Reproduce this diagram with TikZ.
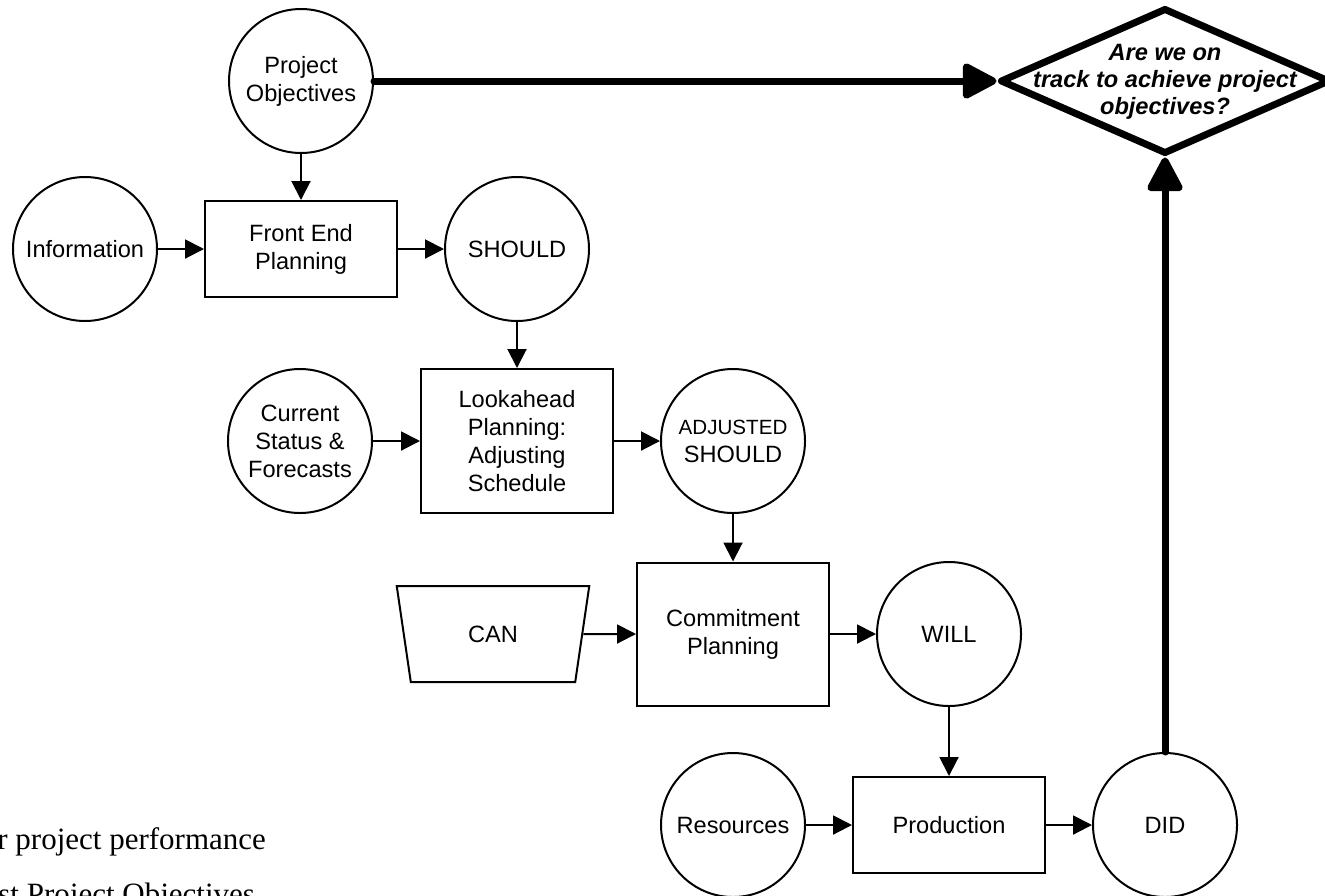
\documentclass[tikz,border=0pt]{standalone}
\usepackage{fontspec}
\setmainfont{Liberation Serif}
\setsansfont{Liberation Sans}
\usetikzlibrary{arrows.meta,shapes.geometric}

\begin{document}
\begin{tikzpicture}[x=0.5pt,y=-0.5pt,
  lbl/.style={font=\sffamily\fontsize{11.8}{14}\selectfont, align=center, inner sep=0pt},
  circ/.style={lbl, draw, circle, line width=1pt, minimum size=72pt},
  proc/.style={lbl, draw, rectangle, line width=1pt, minimum width=96pt},
  source/.style={lbl, draw, trapezium, trapezium angle=75.7, trapezium stretches=true,
    shape border rotate=180, line width=1pt, minimum width=96.5pt, minimum height=48pt},
  flow/.style={line width=1pt, -{Triangle[length=9.5pt,width=9.5pt]}},
  major/.style={line width=3.5pt, line cap=round, -{Triangle[length=19pt,width=19pt,round]}},
  decision/.style={draw, diamond, line width=3.5pt, line join=round, minimum width=165pt,
    minimum height=73pt, inner sep=0pt},
  dectext/.style={font=\sffamily\bfseries\itshape\fontsize{11.8}{13.5}\selectfont,
    align=center, inner sep=0pt},
  note/.style={font=\rmfamily\fontsize{15.5}{18}\selectfont, anchor=base west, inner sep=0pt}
]
\useasboundingbox (0,0) rectangle (1325,895);
\clip (0,0) rectangle (1325,895);

% planning levels
\node[circ] (po)    at (301,81)  {Project\\Objectives};
\node[circ] (info)  at (85,249)  {Information};
\node[proc, minimum height=48pt] (fep) at (301,249) {Front End\\Planning};
\node[circ] (should) at (517,249) {SHOULD};

\node[circ] (status) at (300,441) {Current\\Status \&\\Forecasts};
\node[proc, minimum height=72pt] (look) at (517,441) {Lookahead\\Planning:\\Adjusting\\Schedule};
\node[circ] (adj) at (733,441) {{\fontsize{10.3}{14}\selectfont ADJUSTED}\\SHOULD};

\node[source] (can) at (493,634) {CAN};
\node[proc, minimum height=71.5pt] (commit) at (733,634) {Commitment\\Planning};
\node[circ] (will) at (949,634) {WILL};

\node[circ] (res) at (733,825) {Resources};
\node[proc, minimum height=48pt] (prod) at (949,825) {Production};
\node[circ] (did) at (1165,825) {DID};

% control question
\node[decision] (dec) at (1165,81) {};
\node[dectext] (q) at (1165,82) {Are we on\\track to achieve project\\objectives?};

% thin flows
\draw[flow] (po.south) -- (fep.north);
\draw[flow] (info) -- (fep);
\draw[flow] (fep) -- (should);
\draw[flow] (should.south) -- (look.north);
\draw[flow] (status) -- (look);
\draw[flow] (look) -- (adj);
\draw[flow] (adj.south) -- (commit.north);
\draw[flow] (can) -- (commit);
\draw[flow] (commit) -- (will);
\draw[flow] (will.south) -- (prod.north);
\draw[flow] (res) -- (prod);
\draw[flow] (prod) -- (did);

% thick comparison flows
\draw[major] (po.east) -- (dec.west);
\draw[major] (did.north) -- (dec.south);

% caption lines
\node[note] (n1) at (-3,849) {r project performance};
\node[note] (n2) at (-2,904) {st Project Objectives};
\end{tikzpicture}
\end{document}
